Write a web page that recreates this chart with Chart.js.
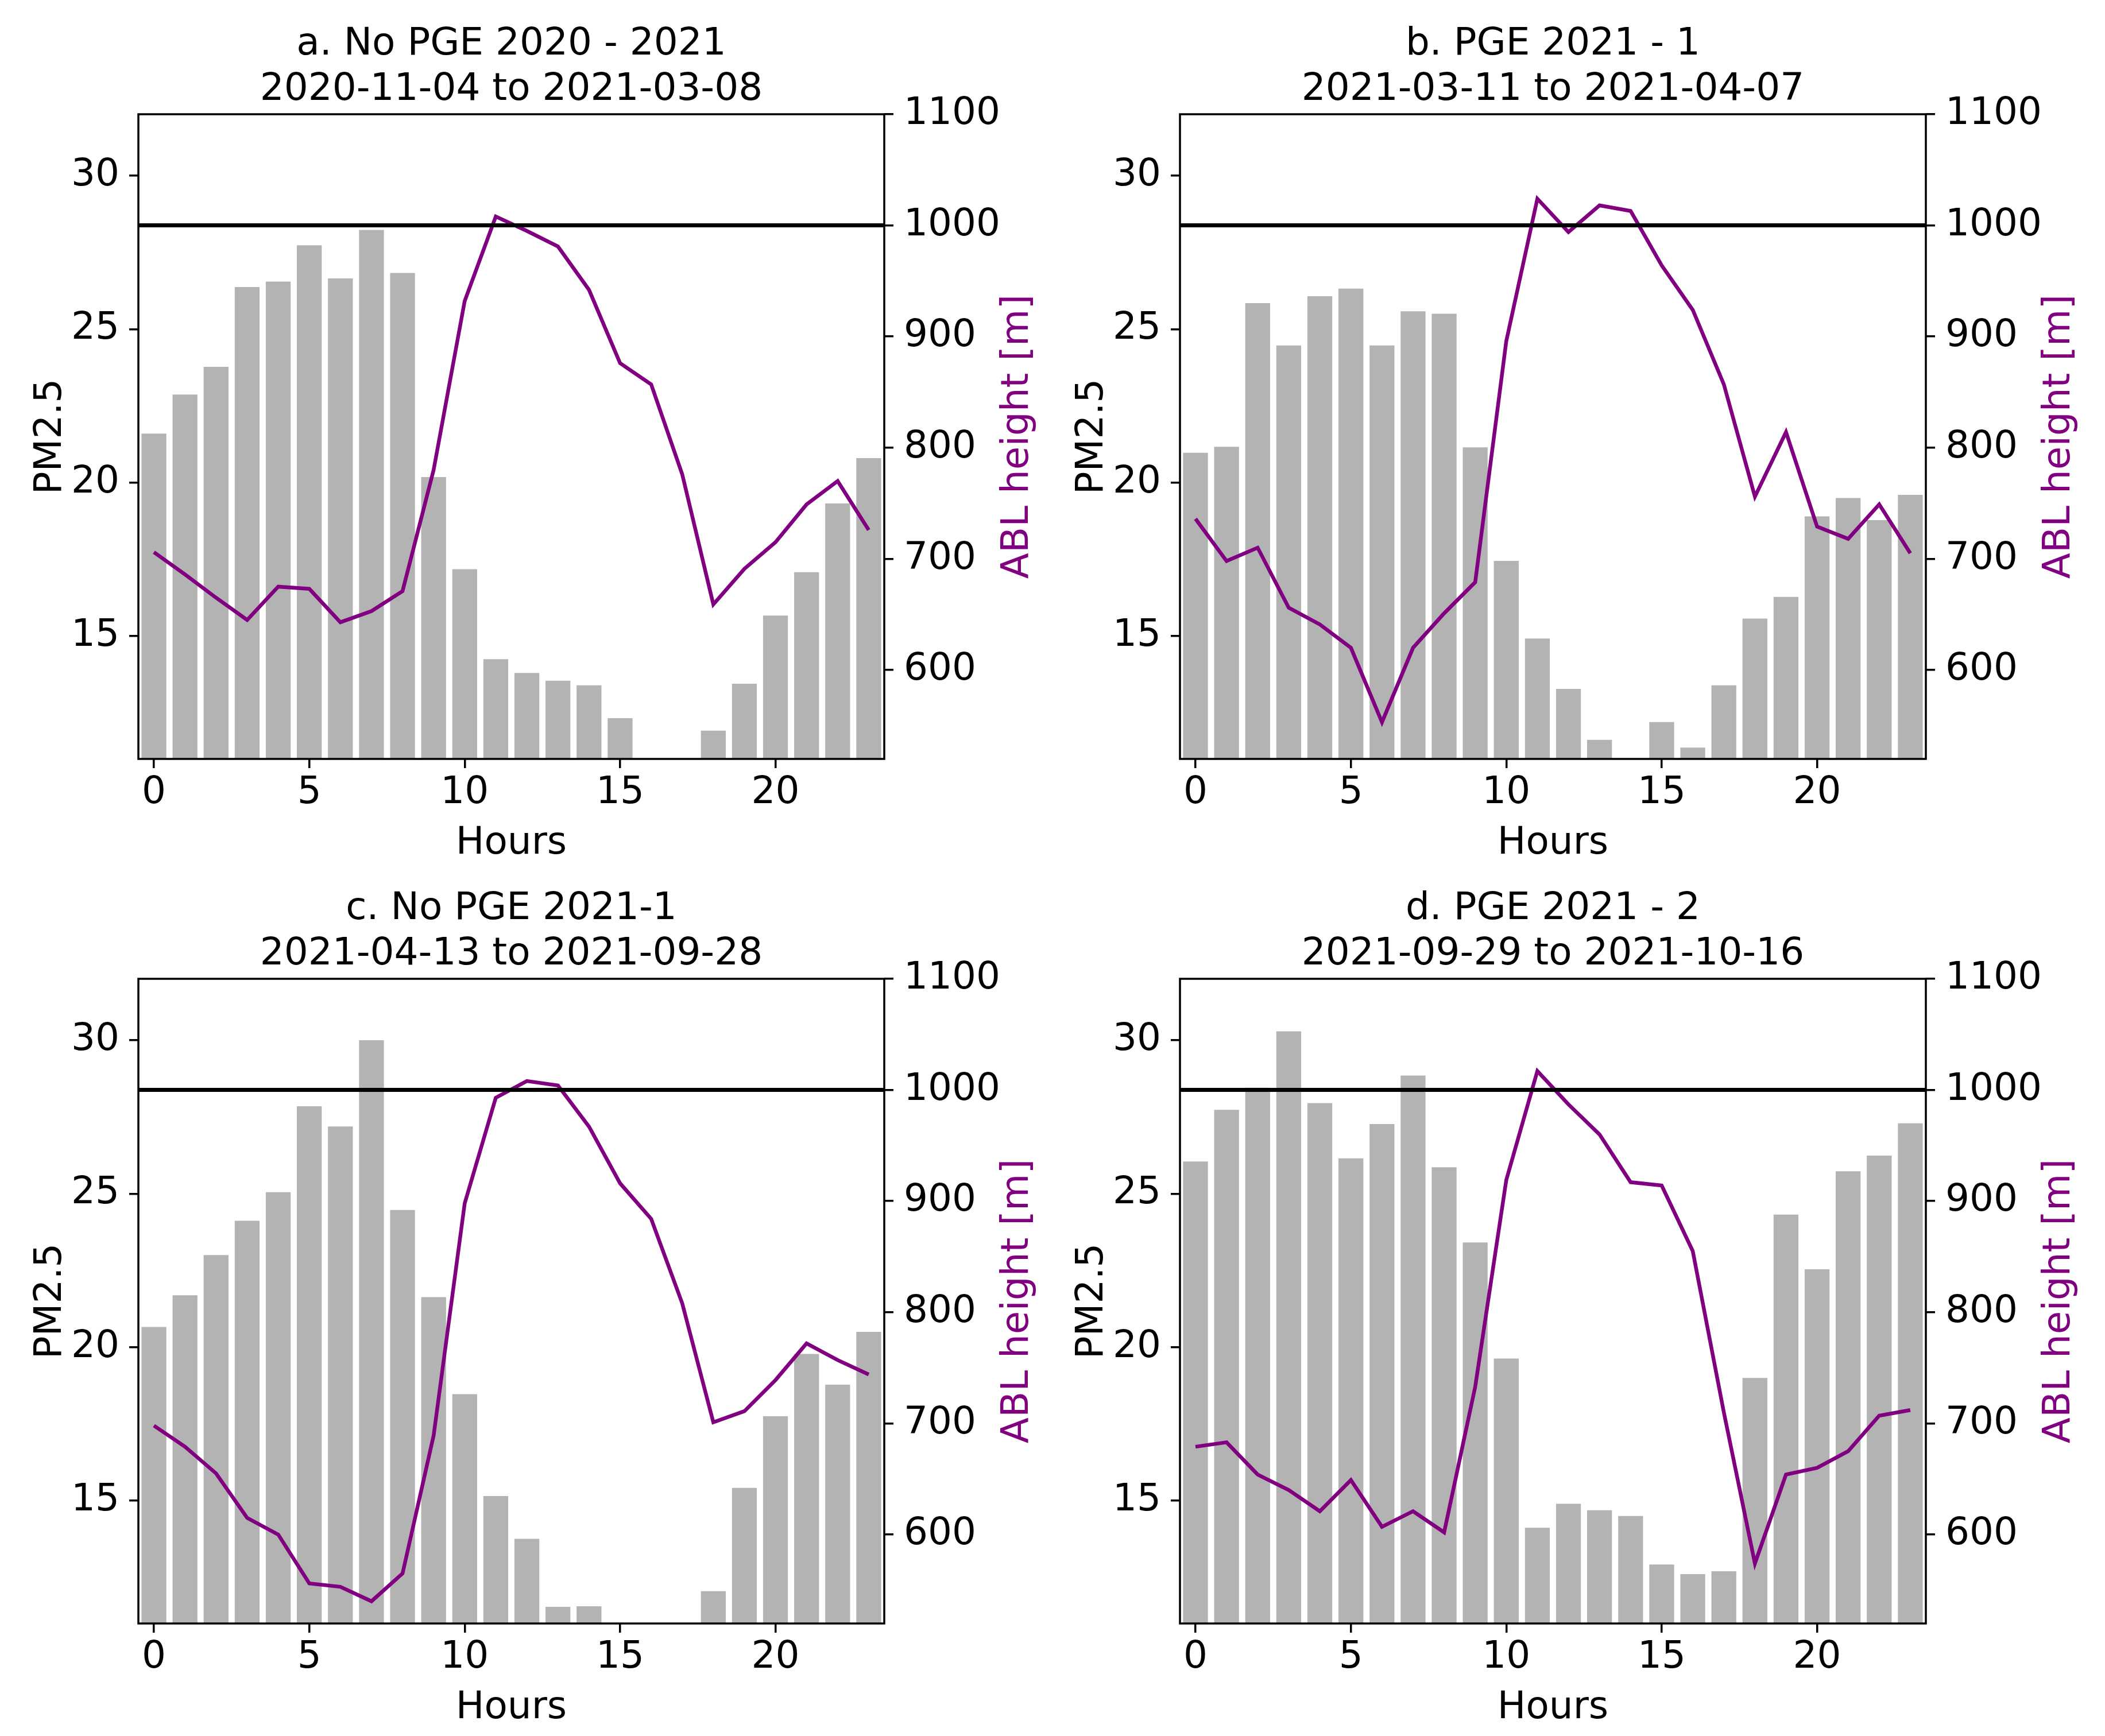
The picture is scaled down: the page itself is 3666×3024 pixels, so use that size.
<!DOCTYPE html>
<html>
<head>
<meta charset="utf-8">
<script src="https://cdn.jsdelivr.net/npm/chart.js@4.4.1/dist/chart.umd.min.js"></script>
<style>
  html, body { margin: 0; padding: 0; background: #fff; }
  body { width: 3666px; height: 3024px; position: relative; overflow: hidden; }
  canvas { position: absolute; }
</style>
</head>
<body>
<canvas id="pa" width="1833" height="1512" style="left:0px;top:0px"></canvas>
<canvas id="pb" width="1833" height="1512" style="left:1814px;top:0px"></canvas>
<canvas id="pc" width="1833" height="1512" style="left:0px;top:1506px"></canvas>
<canvas id="pd" width="1833" height="1512" style="left:1814px;top:1506px"></canvas>
<script>
// hour of day
const hours = [0, 1, 2, 3, 4, 5, 6, 7, 8, 9, 10, 11, 12, 13, 14, 15, 16, 17, 18, 19, 20, 21, 22, 23];

// PM2.5 (bars, left axis)
const pmA = [21.6, 22.87, 23.77, 26.37, 26.55, 27.73, 26.65, 28.23, 26.83, 20.18, 17.18, 14.25,
             13.8, 13.55, 13.4, 12.33, 10.8, 10.7, 11.92, 13.45, 15.67, 17.08, 19.32, 20.8];
const pmB = [20.97, 21.17, 25.85, 24.47, 26.07, 26.32, 24.47, 25.58, 25.5, 21.15, 17.45, 14.92,
             13.28, 11.62, 10.8, 12.2, 11.37, 13.4, 15.57, 16.28, 18.9, 19.5, 18.78, 19.6];
const pmC = [20.66, 21.69, 23.0, 24.12, 25.05, 27.85, 27.19, 30.0, 24.47, 21.63, 18.47, 15.15,
             13.76, 11.54, 11.56, 10.8, 10.7, 10.9, 12.05, 15.42, 17.75, 19.78, 18.78, 20.5];
const pmD = [26.05, 27.73, 28.45, 30.29, 27.95, 26.15, 27.27, 28.85, 25.86, 23.41, 19.63, 14.12,
             14.9, 14.69, 14.5, 12.92, 12.61, 12.7, 19.0, 24.32, 22.54, 25.73, 26.24, 27.29];

// ABL height [m] (line, right axis)
const ablA = [706, 686, 665, 645, 675, 673, 643, 653, 671, 780, 932, 1008,
              995, 981, 942, 876, 857, 776, 659, 691, 715, 749, 770, 726];
const ablB = [736, 698, 710, 656, 641, 620, 553, 620, 651, 679, 896, 1024,
              994, 1018, 1013, 964, 924, 857, 756, 814, 729, 718, 749, 705];
const ablC = [698, 679, 655, 615, 600, 556, 553, 540, 565, 689, 898, 993,
              1008, 1004, 967, 916, 884, 808, 701, 711, 739, 772, 757, 744];
const ablD = [679, 683, 654, 640, 621, 649, 607, 621, 602, 733, 919, 1017,
              987, 960, 917, 914, 855, 710, 574, 654, 660, 675, 707, 712];

const titles = [
  ['a. No PGE 2020 - 2021', '2020-11-04 to 2021-03-08'],
  ['b. PGE 2021 - 1', '2021-03-11 to 2021-04-07'],
  ['c. No PGE 2021-1', '2021-04-13 to 2021-09-28'],
  ['d. PGE 2021 - 2', '2021-09-29 to 2021-10-16']
];

const hourTicks = [0, 5, 10, 15, 20];
const pmTicks = [15, 20, 25, 30];
const ablTicks = [600, 700, 800, 900, 1000, 1100];
const hourRange = [-0.5, 23.5];
const pmRange = [11, 32];
const ablRange = [520, 1100];
const ablLimit = 1000;

const FS = 66;
const FONT = '"DejaVu Sans", "Liberation Sans", sans-serif';
const PURPLE = '#800080';
const GREY = '#b3b3b3';

Chart.defaults.font.family = FONT;
Chart.defaults.font.size = FS;
Chart.defaults.color = '#000';

// black line at 1000 m, frame and the text around each panel
const deco = {
  id: 'deco',
  afterDatasetsDraw(chart) {
    const {ctx, chartArea: a, scales} = chart;
    const y = scales.y1.getPixelForValue(ablLimit);
    ctx.save();
    ctx.strokeStyle = '#000';
    ctx.lineWidth = 7;
    ctx.beginPath();
    ctx.moveTo(a.left, y);
    ctx.lineTo(a.right, y);
    ctx.stroke();
    ctx.restore();
  },
  afterDraw(chart, args, opts) {
    const {ctx, chartArea: a} = chart;
    const cx = (a.left + a.right) / 2;
    const cy = (a.top + a.bottom) / 2;
    ctx.save();
    ctx.strokeStyle = '#000';
    ctx.lineWidth = 3.5;
    ctx.strokeRect(a.left, a.top, a.right - a.left, a.bottom - a.top);

    ctx.font = FS + 'px ' + FONT;
    ctx.fillStyle = '#000';
    ctx.textAlign = 'center';
    ctx.textBaseline = 'alphabetic';
    ctx.fillText(opts.title[0], cx, a.top - 104);
    ctx.fillText(opts.title[1], cx, a.top - 25);
    ctx.fillText('Hours', cx, a.bottom + 165);

    ctx.save();
    ctx.translate(a.left - 135, cy);
    ctx.rotate(-Math.PI / 2);
    ctx.fillText('PM2.5', 0, 0);
    ctx.restore();

    ctx.save();
    ctx.translate(a.right + 250, cy);
    ctx.rotate(-Math.PI / 2);
    ctx.fillStyle = PURPLE;
    ctx.fillText('ABL height [m]', 0, 0);
    ctx.restore();

    ctx.restore();
  }
};

function fixTicks(list) {
  return function (scale) {
    scale.ticks = list.map(v => ({value: v}));
  };
}

const axisGrid = {
  drawOnChartArea: false,
  drawTicks: true,
  offset: false,
  tickLength: 16,
  color: '#000',
  lineWidth: 3.5
};

function makePanel(id, title, pm, abl) {
  const ctx = document.getElementById(id);
  return new Chart(ctx, {
    type: 'bar',
    data: {
      datasets: [
        {
          type: 'line',
          label: 'ABL height',
          data: hours.map((h, i) => ({x: h, y: abl[i]})),
          borderColor: PURPLE,
          borderWidth: 6.5,
          pointRadius: 0,
          tension: 0,
          fill: false,
          yAxisID: 'y1',
          order: 1
        },
        {
          type: 'bar',
          label: 'PM2.5',
          data: hours.map((h, i) => ({x: h, y: pm[i]})),
          backgroundColor: GREY,
          borderWidth: 0,
          barPercentage: 0.8,
          categoryPercentage: 1.0,
          clip: 0,
          yAxisID: 'y',
          order: 2
        }
      ]
    },
    options: {
      responsive: false,
      animation: false,
      devicePixelRatio: 1,
      layout: {padding: {top: 199, left: 0, right: 0, bottom: 0}},
      plugins: {
        legend: {display: false},
        tooltip: {enabled: false},
        deco: {title: title}
      },
      scales: {
        x: {
          type: 'linear',
          min: hourRange[0],
          max: hourRange[1],
          offset: false,
          afterBuildTicks: fixTicks(hourTicks),
          afterFit: s => { s.height = 190; },
          grid: axisGrid,
          border: {display: false},
          ticks: {padding: 4, maxRotation: 0, callback: v => String(v)}
        },
        y: {
          position: 'left',
          min: pmRange[0],
          max: pmRange[1],
          afterBuildTicks: fixTicks(pmTicks),
          afterFit: s => { s.width = 241; },
          grid: axisGrid,
          border: {display: false},
          ticks: {padding: 17, callback: v => String(v)}
        },
        y1: {
          position: 'right',
          min: ablRange[0],
          max: ablRange[1],
          afterBuildTicks: fixTicks(ablTicks),
          afterFit: s => { s.width = 293; },
          grid: axisGrid,
          border: {display: false},
          ticks: {padding: 18, callback: v => String(v)}
        }
      }
    },
    plugins: [deco]
  });
}

makePanel('pa', titles[0], pmA, ablA);
makePanel('pb', titles[1], pmB, ablB);
makePanel('pc', titles[2], pmC, ablC);
makePanel('pd', titles[3], pmD, ablD);
</script>
</body>
</html>
